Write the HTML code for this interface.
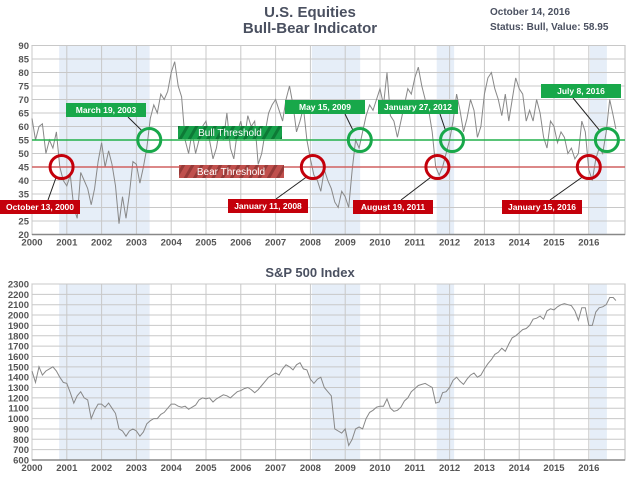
<!DOCTYPE html>
<html><head><meta charset="utf-8">
<style>
html,body{margin:0;padding:0;background:#fff;}
svg{display:block;font-family:"Liberation Sans",sans-serif;}
.ax{font-size:9.5px;font-weight:bold;fill:#555;}
.lb{font-size:8.5px;font-weight:bold;fill:#fff;}
</style></head>
<body>
<svg id="chart" width="629" height="477" viewBox="0 0 629 477">
<text x="310" y="17" text-anchor="middle" font-size="15" font-weight="bold" fill="#4a5060">U.S. Equities</text>
<text x="310" y="33" text-anchor="middle" font-size="15" font-weight="bold" fill="#4a5060">Bull-Bear Indicator</text>
<text x="490" y="15" font-size="10" font-weight="bold" fill="#4a5060">October 14, 2016</text>
<text x="490" y="30" font-size="10" font-weight="bold" fill="#4a5060">Status: Bull, Value: 58.95</text>
<text x="310" y="277" text-anchor="middle" font-size="13" font-weight="bold" fill="#4a5060">S&amp;P 500 Index</text>
<g id="topPanel"></g>
<g id="botPanel"></g>
</svg>
<script>
const years=[2000,2001,2002,2003,2004,2005,2006,2007,2008,2009,2010,2011,2012,2013,2014,2015,2016];
const indTicks=[20,25,30,35,40,45,50,55,60,65,70,75,80,85,90];
const spTicks=[600,700,800,900,1000,1100,1200,1300,1400,1500,1600,1700,1800,1900,2000,2100,2200,2300];
const bearPeriods=[[2000.78,2003.38],[2008.04,2009.43],[2011.63,2012.13],[2016.03,2016.52]];
const indicatorValues=[63,55,60,61,50,55,52,58,45,40,
38,42,30,26,43,40,37,31,37,47,
54,45,51,46,38,24,34,26,35,47,
46,39,45,52,63,68,65,72,70,73,
80,84,75,71,55,50,58,50,55,60,
62,55,48,52,60,55,65,52,48,58,
62,55,64,60,62,46,50,58,65,68,
70,66,62,70,75,68,58,62,67,55,
48,42,40,36,44,40,37,32,30,36,
34,30,44,55,52,58,64,68,66,70,
74,68,80,64,62,56,62,68,74,72,
78,82,75,70,66,58,45,42,45,50,
55,62,72,66,58,63,70,66,56,60,
72,78,80,74,70,64,72,62,70,78,
74,72,62,66,62,70,65,56,52,62,
60,54,58,56,50,52,48,50,62,58,
44,40,48,52,50,58,70,64,59];
const spValues=[1460,1350,1500,1420,1460,1480,1500,1460,1400,1350,
1340,1250,1150,1220,1260,1200,1180,1000,1080,1140,
1140,1110,1150,1100,1050,900,880,830,880,900,
880,830,870,950,980,1000,1000,1040,1060,1100,
1140,1140,1120,1110,1120,1090,1110,1130,1180,1200,
1190,1200,1160,1190,1210,1230,1220,1200,1230,1260,
1270,1290,1300,1280,1250,1280,1320,1360,1400,1420,
1440,1420,1480,1520,1500,1470,1520,1540,1480,1470,
1380,1340,1380,1400,1300,1260,1220,900,880,860,
900,740,800,900,920,900,1000,1060,1080,1110,
1120,1120,1190,1100,1070,1080,1110,1170,1200,1260,
1290,1320,1330,1340,1320,1300,1150,1160,1250,1260,
1300,1370,1400,1360,1330,1380,1420,1440,1400,1420,
1480,1530,1570,1620,1640,1680,1650,1720,1780,1800,
1830,1860,1870,1900,1960,1970,1990,1960,2040,2060,
2050,2080,2100,2110,2100,2090,2040,1950,2070,2070,
1900,1900,2030,2070,2080,2100,2170,2170,2140];
const bullThreshold=55, bearThreshold=45;
const bullSignals=[[2003.37,55,"March 19, 2003"],[2009.42,55,"May 15, 2009"],[2012.07,55,"January 27, 2012"],[2016.52,55,"July 8, 2016"]];
const bearSignals=[[2000.85,45,"October 13, 2000"],[2008.07,45,"January 11, 2008"],[2011.65,45,"August 19, 2011"],[2016.0,45,"January 15, 2016"]];

const NS="http://www.w3.org/2000/svg";
function mk(p,t,a){const e=document.createElementNS(NS,t);for(const k in a)e.setAttribute(k,a[k]);p.appendChild(e);return e;}
const X0=32,X1=625,PY=34.8;
const xS=y=>X0+(y-2000)*PY;
function dateOf(i,n){return i===n-1?2016.78:2000+i/10;}

function panel(g,yTop,yBot,min,max,ticks,vals,name){
  const yS=v=>yBot-(v-min)/(max-min)*(yBot-yTop);
  mk(g,'rect',{x:X0,y:yTop,width:X1-X0,height:yBot-yTop,fill:'#fff',stroke:'#bbb'});
  bearPeriods.forEach(b=>{const r=mk(g,'rect',{x:xS(b[0]),y:yTop,width:xS(b[1])-xS(b[0]),height:yBot-yTop,fill:'#e6eef8'});
    
    });
  ticks.forEach(t=>{mk(g,'line',{x1:X0,x2:X1,y1:yS(t),y2:yS(t),stroke:'#c8c8c8','stroke-width':1});
    const tx=mk(g,'text',{x:X0-3,y:yS(t)+3.5,'text-anchor':'end',class:'ax'});tx.textContent=t;
    
    });
  years.forEach(y=>{mk(g,'line',{x1:xS(y),x2:xS(y),y1:yTop,y2:yBot,stroke:'#c8c8c8'});
    const tx=mk(g,'text',{x:xS(y),y:yBot+11,'text-anchor':'middle',class:'ax'});tx.textContent=y;
    
    });
  mk(g,'line',{x1:X0,x2:X1,y1:yBot,y2:yBot,stroke:'#888','stroke-width':1.5});
  const n=vals.length;
  const d=vals.map((v,i)=>(i?'L':'M')+xS(dateOf(i,n)).toFixed(1)+','+yS(v).toFixed(1)).join('');
  const p=mk(g,'path',{d:d,fill:'none',stroke:'#888','stroke-width':1});
  
  
  return yS;
}
const topG=document.getElementById('topPanel');
const yI=panel(topG,45.5,234.5,20,90,indTicks,indicatorValues,'indicator-line');
const bl=mk(topG,'line',{x1:X0,x2:X1,y1:yI(bullThreshold),y2:yI(bullThreshold),stroke:'#22b04b','stroke-width':1.5});


const rl=mk(topG,'line',{x1:X0,x2:X1,y1:yI(bearThreshold),y2:yI(bearThreshold),stroke:'#d06060','stroke-width':1.5});


const defs=mk(topG,'defs',{});
const pg=mk(defs,'pattern',{id:'sg',width:8,height:8,patternUnits:'userSpaceOnUse',patternTransform:'rotate(30)'});
mk(pg,'rect',{width:8,height:8,fill:'#17a04a'});mk(pg,'rect',{width:3,height:8,fill:'#0d7a36'});
const pr=mk(defs,'pattern',{id:'sr',width:8,height:8,patternUnits:'userSpaceOnUse',patternTransform:'rotate(30)'});
mk(pr,'rect',{width:8,height:8,fill:'#c0504d'});mk(pr,'rect',{width:3,height:8,fill:'#963a38'});
mk(topG,'rect',{x:178,y:126,width:104,height:13,fill:'url(#sg)'});
const bt=mk(topG,'text',{x:230,y:136,'text-anchor':'middle','font-size':10,fill:'#fff'});bt.textContent='Bull Threshold';


mk(topG,'rect',{x:179,y:165,width:105,height:13,fill:'url(#sr)'});
const rt=mk(topG,'text',{x:231,y:175,'text-anchor':'middle','font-size':10,fill:'#fff'});rt.textContent='Bear Threshold';


const bullBoxes=[[66,103,62],[285,100,60],[378,100,62],[541,84,32]];
const bearBoxes=[[0,200,48],[228,199,48],[353,200,48],[502,200,48]];
function signal(s,box,col,isBull){
  const cx=xS(s[0]),cy=yI(s[1]);
  const bx=box[0],by=box[1],w=80,h=14;
  const lx=bx+box[2], ly=isBull?by+h:by;
  mk(topG,'line',{x1:lx,y1:ly,x2:cx+(isBull?-6:-5),y2:cy+(isBull?-8:9),stroke:'#222','stroke-width':1});
  const c=mk(topG,'circle',{cx:cx,cy:cy,r:11.5,fill:'none',stroke:col,'stroke-width':3});
  
  
  mk(topG,'rect',{x:bx,y:by,width:w,height:h,fill:col});
  const t=mk(topG,'text',{x:bx+w/2,y:by+10,'text-anchor':'middle',class:'lb'});t.textContent=s[2];
  
  
}
bullSignals.forEach((s,i)=>signal(s,bullBoxes[i],'#18a84a',true));
bearSignals.forEach((s,i)=>signal(s,bearBoxes[i],'#c4000b',false));
const botG=document.getElementById('botPanel');
panel(botG,284,460,600,2300,spTicks,spValues,'sp500-line');
</script>
</body></html>
